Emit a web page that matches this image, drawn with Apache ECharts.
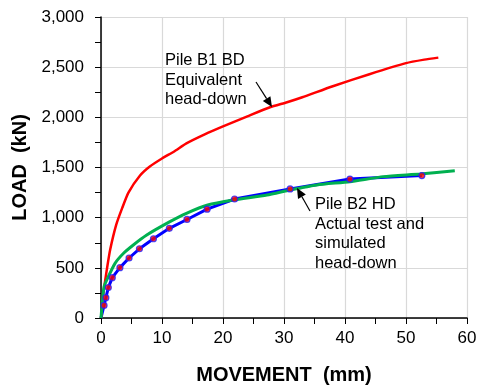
<!DOCTYPE html>
<html>
<head>
<meta charset="utf-8">
<script src="https://cdn.jsdelivr.net/npm/echarts@6/dist/echarts.min.js"></script>
<style>
html,body{margin:0;padding:0;background:#fff;}
#chart{width:482px;height:386px;}
</style>
</head>
<body>
<div id="chart"></div>
<script>
// Pile B1 BD - equivalent head-down (red)
var b1Move = [0, 0.3, 0.7, 1.0, 1.5, 2.5, 3.5, 4.5, 6.4, 8, 10, 12, 14, 17, 20, 24, 27.7, 30.5, 33, 38, 44, 50, 53, 55.3];
var b1Load = [0, 200, 380, 500, 680, 930, 1100, 1250, 1420, 1510, 1590, 1660, 1740, 1830, 1910, 2010, 2100, 2150, 2200, 2310, 2430, 2540, 2575, 2595];

// Pile B2 HD - actual test (blue with dots)
var b2Move = [0, 0.5, 0.8, 1.2, 1.85, 3.1, 4.6, 6.3, 8.6, 11.2, 14.1, 17.4, 21.9, 31.0, 40.8, 52.6];
var b2Load = [0, 125, 203, 303, 402, 502, 598, 690, 790, 894, 982, 1085, 1186, 1286, 1385, 1420];

// Pile B2 HD - simulated head-down (green)
var simMove = [0, 0.5, 1.2, 2.3, 3.7, 5.3, 7.5, 11.3, 14.0, 17.5, 21.7, 27.2, 31, 35.4, 40.8, 46.3, 52.3, 58.0];
var simLoad = [0, 312, 412, 545, 645, 728, 827, 960, 1043, 1126, 1176, 1226, 1276, 1326, 1359, 1409, 1435, 1468];

function pairs(xs, ys) {
    var out = [];
    for (var i = 0; i < xs.length; i++) out.push([xs[i], ys[i]]);
    return out;
}

var FONT = "'Liberation Sans', Arial, sans-serif";
var chart = echarts.init(document.getElementById('chart'));

function arrow(x1, y1, x2, y2) {
    var ang = Math.atan2(y2 - y1, x2 - x1);
    var len = 10, half = 4.5;
    var bx = x2 - len * Math.cos(ang), by = y2 - len * Math.sin(ang);
    var px = -Math.sin(ang) * half, py = Math.cos(ang) * half;
    return [
        { type: 'line', shape: { x1: x1, y1: y1, x2: bx, y2: by }, style: { stroke: '#000', lineWidth: 1.2 }, z: 100 },
        { type: 'polygon', shape: { points: [[x2, y2], [bx + px, by + py], [bx - px, by - py]] }, style: { fill: '#000' }, z: 100 }
    ];
}

function label(x, y, txt) {
    return {
        type: 'text', left: x, top: y, z: 100,
        style: { text: txt, font: '16.5px ' + FONT, fill: '#000', lineHeight: 19.5 }
    };
}

option = {
    animation: false,
    backgroundColor: '#fff',
    grid: { left: 101, right: 15, top: 17, bottom: 68, outerBoundsMode: 'none', containLabel: false },
    xAxis: {
        type: 'value', min: 0, max: 60, interval: 10,
        name: 'MOVEMENT  (mm)', nameLocation: 'middle', nameGap: 47,
        nameTextStyle: { fontFamily: FONT, fontWeight: 'bold', fontSize: 20, color: '#000' },
        axisLine: { lineStyle: { color: '#000', width: 1.5 } },
        axisTick: { show: true, length: 6, lineStyle: { color: '#000' } },
        minorTick: { show: true, splitNumber: 2, length: 6, lineStyle: { color: '#000' } },
        axisLabel: { fontFamily: FONT, fontSize: 17, color: '#000', margin: 12 },
        splitLine: { show: true, lineStyle: { color: '#d9d9d9', width: 1.2 } }
    },
    yAxis: {
        type: 'value', min: 0, max: 3000, interval: 500,
        name: 'LOAD  (kN)', nameLocation: 'middle', nameGap: 69, nameRotate: 90,
        nameTextStyle: { fontFamily: FONT, fontWeight: 'bold', fontSize: 20, color: '#000' },
        axisLine: { show: true, lineStyle: { color: '#000', width: 1.5 } },
        axisTick: { show: true, length: 6, lineStyle: { color: '#000' } },
        minorTick: { show: true, splitNumber: 2, length: 6, lineStyle: { color: '#000' } },
        axisLabel: {
            fontFamily: FONT, fontSize: 17, color: '#000', margin: 17,
            formatter: function (v) { return v.toLocaleString('en-US'); }
        },
        splitLine: { show: true, lineStyle: { color: '#d9d9d9', width: 1.2 } }
    },
    series: [
        {
            name: 'B1 BD', type: 'line', data: pairs(b1Move, b1Load),
            showSymbol: false, smooth: 0.2,
            lineStyle: { color: '#ff0000', width: 2.5 }, z: 3
        },
        {
            name: 'B2 HD test', type: 'line', data: pairs(b2Move, b2Load),
            showSymbol: false,
            lineStyle: { color: '#0000ff', width: 3 }, z: 2
        },
        {
            name: 'B2 HD simulated', type: 'line', data: pairs(simMove, simLoad),
            showSymbol: false, smooth: 0.2,
            lineStyle: { color: '#00b050', width: 3 }, z: 3
        },
        {
            name: 'B2 HD points', type: 'scatter', data: pairs(b2Move, b2Load).slice(1),
            symbol: 'circle', symbolSize: 6,
            itemStyle: { color: '#ff0000', borderColor: '#2222ff', borderWidth: 1.2 }, z: 4
        }
    ],
    graphic: [].concat(
        [label(165, 51, 'Pile B1 BD\nEquivalent\nhead-down')],
        arrow(256, 82, 272, 107),
        [label(315, 195, 'Pile B2 HD\nActual test and\nsimulated\nhead-down')],
        arrow(310, 211, 297, 188)
    )
};
chart.setOption(option);
</script>
</body>
</html>
